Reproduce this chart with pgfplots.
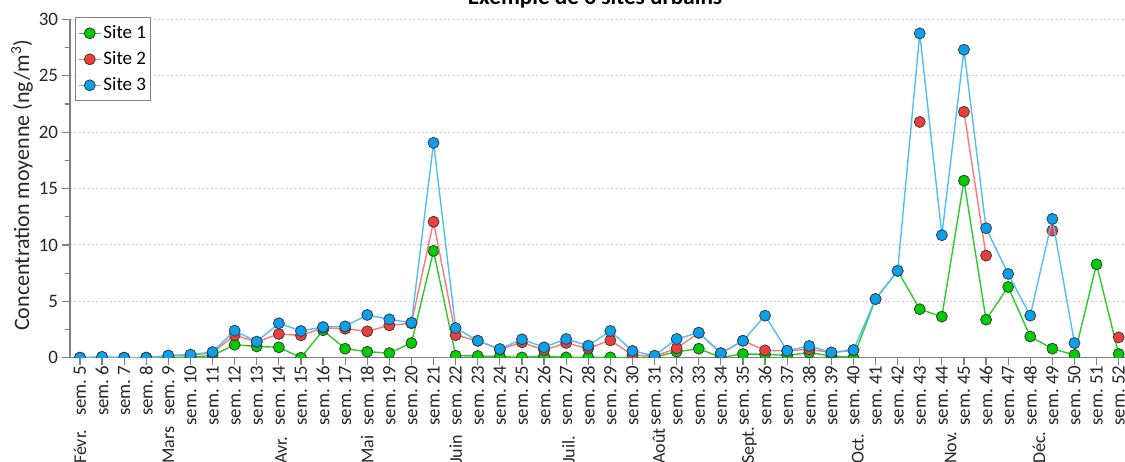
\documentclass[border=0pt]{standalone}
\usepackage{fontspec}
\setmainfont{Carlito}
\usepackage{pgfplots}
\usepackage{pgfplotstable}
\pgfplotsset{compat=1.18}
\usetikzlibrary{calc}

\definecolor{gline}{RGB}{40,205,40}
\definecolor{gfill}{RGB}{0,204,0}
\definecolor{rline}{RGB}{255,120,120}
\definecolor{rfill}{RGB}{240,60,60}
\definecolor{bline}{RGB}{80,190,250}
\definecolor{bfill}{RGB}{10,160,240}
\definecolor{axgray}{RGB}{128,128,128}
\definecolor{edge}{RGB}{60,60,60}

\pgfplotstableread{
w  s1    s2    s3
5  0     0     0
6  0     0.05  0.08
7  0     0     0
8  0     0     0
9  0     0.15  0.2
10 0.05  0.2   0.27
11 0.2   0.45  0.5
12 1.15  2.0   2.4
13 1.0   1.4   1.42
14 0.92  2.1   3.05
15 0     1.98  2.37
16 2.43  2.65  2.72
17 0.8   2.57  2.78
18 0.53  2.34  3.79
19 0.41  2.87  3.4
20 1.3   3.05  3.1
21 9.47  12.05 19.05
22 0.18  2.0   2.63
23 0.15  1.5   1.5
24 0.1   0.72  0.77
25 0.03  1.36  1.63
26 0.15  0.68  0.92
27 0.03  1.3   1.66
28 0.03  0.83  1.07
29 0.03  1.54  2.37
30 0     0.24  0.6
31 0.05  0.12  0.18
32 0.53  0.83  1.66
33 0.8   2.2   2.22
34 0.03  0.4   0.41
35 0.33  1.5   1.5
36 0.3   0.65  3.73
37 0.2   0.6   0.62
38 0.45  0.75  1.04
39 0.15  0.45  0.47
40 0.03  0.65  0.68
41 5.2   nan   5.2
42 7.7   nan   7.7
43 4.3   20.9  28.75
44 3.64  nan   10.86
45 15.7  21.8  27.3
46 3.37  9.05  11.48
47 6.27  nan   7.43
48 1.88  nan   3.73
49 0.8   11.27 12.3
50 0.24  nan   1.3
51 8.28  nan   nan
52 0.33  1.8   nan
}\data

\begin{document}
\begin{tikzpicture}
\begin{axis}[
  name=ax, at={(0,0)}, anchor=south west,
  scale only axis, width=529.3pt, height=169.2pt,
  xmin=4.55, xmax=52.45, ymin=0, ymax=30,
  axis lines=left,
  axis line style={-, draw=axgray, line width=0.7pt},
  xtick={5,...,52}, ytick={0,5,...,30}, minor y tick num=1,
  tick align=outside, major tick length=3.75pt, minor tick length=2.5pt,
  tick style={draw=axgray, line width=0.6pt},
  /pgf/number format/assume math mode=true,
  xticklabel={sem.~\pgfmathprintnumber[assume math mode=true]{\tick}},
  xticklabel style={rotate=90, anchor=east, inner sep=0pt, font=\fontsize{9.4}{11}\selectfont, text=black!85},
  yticklabel style={anchor=east, inner sep=0pt, xshift=-2pt, font=\fontsize{9.5}{11}\selectfont, text=black!85},
  ymajorgrids,
  grid style={draw=gray!40, dash pattern=on 1pt off 1.2pt, line width=0.5pt},
  clip mode=individual, clip marker paths=true,
  unbounded coords=jump,
  ylabel={Concentration moyenne (ng/m\textsuperscript{3})},
  ylabel style={at={(axis description cs:-0.0453,0.51)}, anchor=center, font=\fontsize{11}{13}\selectfont, text=black!85},
  title={Exemple de 3 sites urbains},
  every axis title/.style={at={(axis description cs:0.496,1)}, anchor=base, yshift=7.65pt, inner sep=0pt, font=\bfseries\fontsize{11.6}{14}\selectfont},
  legend style={at={(0.0047,1.0059)}, anchor=north west, draw=axgray, line width=0.5pt,
    inner xsep=1.3pt, inner ysep=1.25pt, row sep=0pt,
    font=\fontsize{9.5}{11}\selectfont,
    nodes={inner sep=1pt, text height=8pt, text depth=3pt}},
  legend cell align=left,
  legend image code/.code={\draw[mark repeat=2, mark phase=2, #1] plot coordinates {(0pt,0pt) (5.5pt,0pt) (11pt,0pt)};},
]
\addplot[color=gline, line width=0.7pt, mark=*, mark size=2.75pt, mark options={fill=gfill, draw=edge, line width=0.4pt}] table[x=w, y=s1]{\data};
\addlegendentry{Site 1}
\addplot[color=rline, line width=0.7pt, mark=*, mark size=2.75pt, mark options={fill=rfill, draw=edge, line width=0.4pt}] table[x=w, y=s2]{\data};
\addlegendentry{Site 2}
\addplot[color=bline, line width=0.7pt, mark=*, mark size=2.75pt, mark options={fill=bfill, draw=edge, line width=0.4pt}] table[x=w, y=s3]{\data};
\addlegendentry{Site 3}

\path (axis cs:5,0)    ++(0pt,-53.3pt) node[rotate=90, anchor=west, inner sep=0pt, font=\fontsize{9}{11}\selectfont, text=black!85] {Févr.};
\path (axis cs:9,0)    ++(0pt,-53.3pt) node[rotate=90, anchor=west, inner sep=0pt, font=\fontsize{9}{11}\selectfont, text=black!85] {Mars};
\path (axis cs:14.1,0) ++(0pt,-53.3pt) node[rotate=90, anchor=west, inner sep=0pt, font=\fontsize{9}{11}\selectfont, text=black!85] {Avr.};
\path (axis cs:18,0)   ++(0pt,-53.3pt) node[rotate=90, anchor=west, inner sep=0pt, font=\fontsize{9}{11}\selectfont, text=black!85] {Mai};
\path (axis cs:22,0)   ++(0pt,-53.3pt) node[rotate=90, anchor=west, inner sep=0pt, font=\fontsize{9}{11}\selectfont, text=black!85] {Juin};
\path (axis cs:27.1,0) ++(0pt,-53.3pt) node[rotate=90, anchor=west, inner sep=0pt, font=\fontsize{9}{11}\selectfont, text=black!85] {Juil.};
\path (axis cs:31.2,0) ++(0pt,-53.3pt) node[rotate=90, anchor=west, inner sep=0pt, font=\fontsize{9}{11}\selectfont, text=black!85] {Août};
\path (axis cs:35.3,0) ++(0pt,-53.3pt) node[rotate=90, anchor=west, inner sep=0pt, font=\fontsize{9}{11}\selectfont, text=black!85] {Sept.};
\path (axis cs:40.2,0) ++(0pt,-53.3pt) node[rotate=90, anchor=west, inner sep=0pt, font=\fontsize{9}{11}\selectfont, text=black!85] {Oct.};
\path (axis cs:44.4,0) ++(0pt,-53.3pt) node[rotate=90, anchor=west, inner sep=0pt, font=\fontsize{9}{11}\selectfont, text=black!85] {Nov.};
\path (axis cs:48.4,0) ++(0pt,-53.3pt) node[rotate=90, anchor=west, inner sep=0pt, font=\fontsize{9}{11}\selectfont, text=black!85] {Déc.};
\end{axis}
\pgfresetboundingbox
\useasboundingbox ($(ax.south west)+(-35pt,-51.65pt)$) rectangle ++(562.5pt,230.5pt);
\end{tikzpicture}
\end{document}
